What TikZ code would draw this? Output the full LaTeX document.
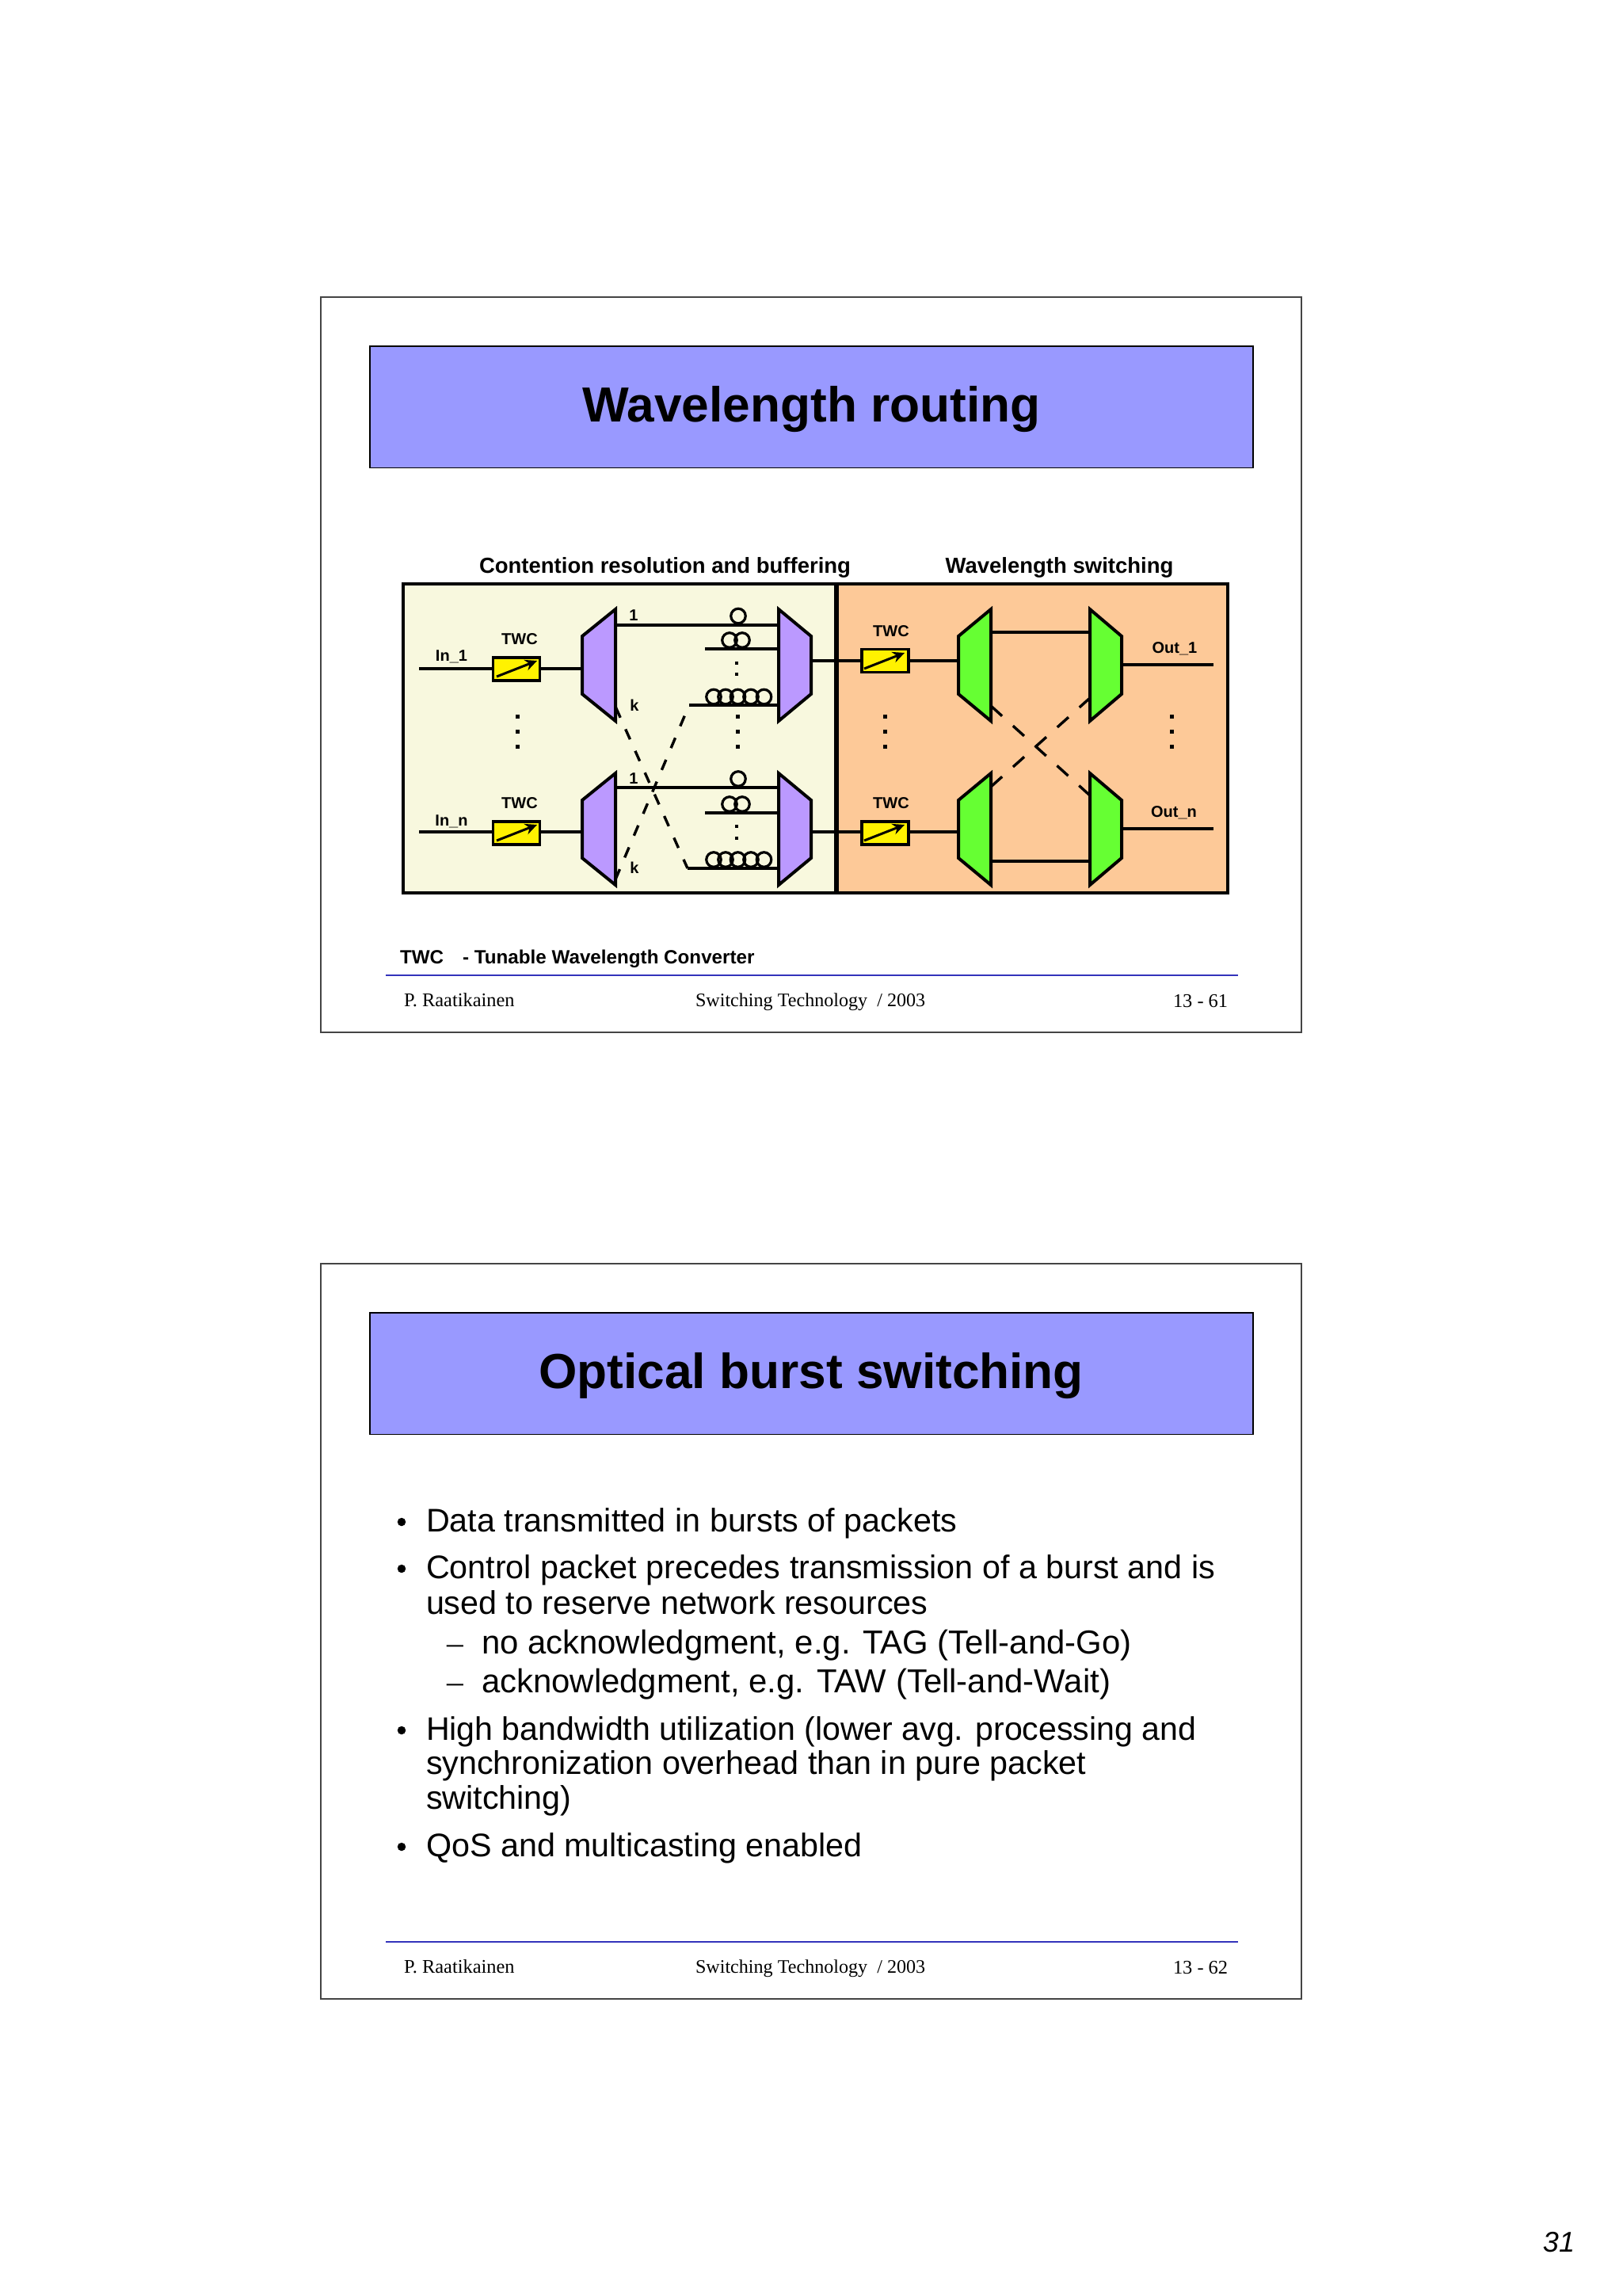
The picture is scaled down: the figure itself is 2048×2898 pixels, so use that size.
\documentclass[tikz,border=0pt]{standalone}
\usepackage{fontspec}
\setmainfont{Liberation Sans}
\newfontfamily\serifface{Liberation Serif}
\usetikzlibrary{arrows.meta}
\definecolor{titleblue}{HTML}{9999FF}
\definecolor{panelcream}{HTML}{F8F8DE}
\definecolor{panelorange}{HTML}{FDC998}
\definecolor{muxpurple}{HTML}{BB99FF}
\definecolor{muxgreen}{HTML}{66FF33}
\definecolor{rulecol}{HTML}{3333BB}
\definecolor{framecol}{HTML}{444444}
\newcommand{\fsz}[1]{\fontsize{#1}{#1}\selectfont}
% name, left x, top y, fill : long side on the right
\newcommand{\splitter}[5]{%
  \node[muxbox,minimum width=#5,anchor=north west] (#1) at (#2,#3) {};
  \draw[muxline,fill=#4] (#2,#3+34) -- (#2+#5,#3) -- (#2+#5,#3+141) -- (#2,#3+107) -- cycle;}
% name, left x, top y, fill : long side on the left
\newcommand{\combiner}[5]{%
  \node[muxbox,minimum width=#5,anchor=north west] (#1) at (#2,#3) {};
  \draw[muxline,fill=#4] (#2,#3) -- (#2+#5,#3+34) -- (#2+#5,#3+107) -- (#2,#3+141) -- cycle;}
\tikzset{
  x=1pt,y=-1pt,
  wire/.style={line width=3.4pt,black},
  dashwire/.style={wire,dash pattern=on 14pt off 16pt},
  dashwireb/.style={wire,dash pattern=on 19pt off 18.5pt},
  muxline/.style={line width=4pt,line join=miter},
  muxbox/.style={inner sep=0,outer sep=0,minimum height=141pt},
  panel/.style={draw=black,line width=4pt},
  twcbox/.style={draw=black,fill=yellow,line width=3.4pt,inner sep=0,outer sep=0,minimum width=59pt,minimum height=29pt},
  twcarrow/.style={line width=3pt,-{Stealth[length=15pt,width=14pt]}},
  coil/.style={circle,draw=black,line width=3.2pt,inner sep=0,outer sep=0,minimum size=18.5pt},
  sq/.style={rectangle,fill=black,inner sep=0,outer sep=0,minimum size=5pt},
  sqs/.style={sq,minimum size=4.5pt},
  lbl/.style={inner sep=0,outer sep=0,anchor=base,font=\bfseries\fsz{20}},
  head/.style={inner sep=0,outer sep=0,anchor=base,font=\bfseries\fsz{27.5}},
  titletext/.style={inner sep=0,outer sep=0,anchor=base,font=\bfseries\fsz{62.2}},
  bodytext/.style={inner sep=0,outer sep=0,anchor=base west,font=\fsz{41.3}},
  subtext/.style={bodytext,font=\fsz{41.9}},
  foot/.style={inner sep=0,outer sep=0,anchor=base west,font=\serifface\fsz{24.4}},
  footmid/.style={foot,font=\serifface\fsz{24.1}},
  slideframe/.style={draw=framecol,line width=2pt},
  titlebar/.style={draw=black,fill=titleblue,line width=1.8pt},
  footrule/.style={draw=rulecol,line width=2.2pt},
}
\begin{document}
\begin{tikzpicture}
\useasboundingbox[fill=white] (0,0) rectangle (2048,2898);

% ---------- slide frames and titles
\draw[slideframe] (405,375) rectangle (1643,1303);
\draw[slideframe] (405,1595) rectangle (1643,2523);
\draw[titlebar] (467,437) rectangle (1582,590.5);
\draw[titlebar] (467,1657) rectangle (1582,1810.5);
\node[titletext] (t1) at (1024.5,532.5) {Wavelength routing};
\node[titletext] (t2) at (1024,1752.5) {Optical burst switching};

% ---------- panels
\node[head] (h1) at (839.5,723) {Contention resolution and buffering};
\node[head] (h2) at (1337.5,723) {Wavelength switching};
\draw[panel,fill=panelcream] (509,737) rectangle (1055.5,1126.5);
\draw[panel,fill=panelorange] (1055.5,737) rectangle (1549.5,1126.5);

% ---------- left panel blocks
\coordinate (in1) at (529,844);
\coordinate (inn) at (529,1050);
\node[twcbox] (b1) at (652,844.5) {};
\node[twcbox] (b2) at (652,1051.5) {};
\node[twcbox] (b3) at (1117.5,834) {};
\node[twcbox] (b4) at (1117.5,1051.5) {};

% coils
\node[coil] (c1) at (932,777.5) {};
\node[coil] (c2) at (921,808) {};
\node[coil] (c3) at (937,808) {};
\foreach \n/\x in {a/901,b/916,c/931.5,d/948,e/964.5}{\node[coil] (c4\n) at (\x,879.5) {};}
\node[coil] (d1) at (932,983) {};
\node[coil] (d2) at (921,1015) {};
\node[coil] (d3) at (937,1015) {};
\foreach \n/\x in {a/901,b/916,c/931.5,d/948,e/964.5}{\node[coil] (d4\n) at (\x,1085) {};}

\coordinate (w2) at (890,819);
\coordinate (w3) at (870,890);
\coordinate (w5) at (890,1026);
\coordinate (w6) at (868,1096);

% anchors of the mux shapes, wires run between them
\node[muxbox,minimum width=42pt,anchor=north west] (dm1) at (735,769) {};
\node[muxbox,minimum width=42pt,anchor=north west] (dm2) at (735,976) {};
\node[muxbox,minimum width=41pt,anchor=north west] (cm1) at (983,769) {};
\node[muxbox,minimum width=41pt,anchor=north west] (cm2) at (983,976) {};
\node[muxbox,minimum width=41pt,anchor=north west] (gd1) at (1210,769) {};
\node[muxbox,minimum width=41pt,anchor=north west] (gd2) at (1210,976) {};
\node[muxbox,minimum width=40pt,anchor=north west] (gc1) at (1376,769) {};
\node[muxbox,minimum width=40pt,anchor=north west] (gc2) at (1376,976) {};

\draw[wire] (in1) -- (b1.west |- in1);
\draw[wire] (inn) -- (b2.west |- inn);
\draw[wire] (b1.east |- in1) -- (dm1.west |- in1);
\draw[wire] (b2.east |- inn) -- (dm2.west |- inn);
\draw[wire] (dm1.east |- 0,789) -- (cm1.west |- 0,789);
\draw[wire] (dm2.east |- 0,994) -- (cm2.west |- 0,994);
\draw[wire] (w2) -- (cm1.west |- w2);
\draw[wire] (w3) -- (cm1.west |- w3);
\draw[wire] (w5) -- (cm2.west |- w5);
\draw[wire] (w6) -- (cm2.west |- w6);
\draw[dashwire] (777.5,893) -- (w6);
\draw[dashwire] (777,1110) -- (w3);
\draw[wire] (cm1.east |- 0,834) -- (b3.west |- 0,834);
\draw[wire] (cm2.east |- inn) -- (b4.west |- inn);
\draw[wire] (b3.east |- 0,834) -- (gd1.west |- 0,834);
\draw[wire] (b4.east |- inn) -- (gd2.west |- inn);
\draw[wire] (gd1.east |- 0,798) -- (gc1.west |- 0,798);
\draw[wire] (gd2.east |- 0,1087) -- (gc2.west |- 0,1087);
\draw[dashwireb] (1251,891) -- (1376,1004);
\draw[dashwireb] (1251,993) -- (1376,881);
\coordinate (out1) at (1532,839);
\coordinate (outn) at (1532,1046);
\draw[wire] (gc1.east |- out1) -- (out1);
\draw[wire] (gc2.east |- outn) -- (outn);
\draw[black,line width=6pt] (1055.5,737) -- (1055.5,1126.5);

% mux shapes
\splitter{dmA}{735}{769}{muxpurple}{42}
\splitter{dmB}{735}{976}{muxpurple}{42}
\combiner{cmA}{983}{769}{muxpurple}{41}
\combiner{cmB}{983}{976}{muxpurple}{41}
\splitter{gdA}{1210}{769}{muxgreen}{41}
\splitter{gdB}{1210}{976}{muxgreen}{41}
\combiner{gcA}{1376}{769}{muxgreen}{40}
\combiner{gcB}{1376}{976}{muxgreen}{40}

% TWC arrows
\draw[twcarrow] ([shift={(-25,9.5)}]b1.center) -- ([shift={(26,-10.5)}]b1.center);
\draw[twcarrow] ([shift={(-25,9.5)}]b2.center) -- ([shift={(26,-10.5)}]b2.center);
\draw[twcarrow] ([shift={(-26.5,10)}]b3.center) -- ([shift={(24.5,-10)}]b3.center);
\draw[twcarrow] ([shift={(-26.5,9.5)}]b4.center) -- ([shift={(24.5,-10.5)}]b4.center);

% dots
\foreach \x in {653,931,1117.5,1479}{
  \node[sq] (p\x a) at (\x,904) {};
  \node[sq] (p\x b) at (\x,923) {};
  \node[sq] (p\x c) at (\x,942) {};
}
\node[sqs] (q1) at (930,837) {};
\node[sqs] (q2) at (930,851) {};
\node[sqs] (q3) at (930,1043) {};
\node[sqs] (q4) at (930,1058) {};

% labels
\node[lbl] (l1) at (570,834) {In\_1};
\node[lbl] (l2) at (570,1042) {In\_n};
\node[lbl] (l3) at (656,813) {TWC};
\node[lbl] (l4) at (656,1020) {TWC};
\node[lbl] (l5) at (1125,803) {TWC};
\node[lbl] (l6) at (1125,1020) {TWC};
\node[lbl] (l7) at (1483,824) {Out\_1};
\node[lbl] (l8) at (1482,1031) {Out\_n};
\node[lbl] (n1) at (800,783) {1};
\node[lbl] (k1) at (801,897) {k};
\node[lbl] (n2) at (800,989) {1};
\node[lbl] (k2) at (801,1102) {k};

% footers
\node[inner sep=0,outer sep=0,anchor=base west,font=\bfseries\fsz{24.2}] (twc) at (505,1216) {TWC\hspace{24pt}- Tunable Wavelength Converter};
\draw[footrule] (487,1231) -- (1563,1231);
\draw[footrule] (487,2451) -- (1563,2451);
\node[foot] (f1) at (510,1270) {P. Raatikainen};
\node[footmid] (f2) at (878,1270) {Switching Technology \ / 2003};
\node[foot] (f3) at (1481,1271) {13 - 61};
\node[foot] (f4) at (510,2490) {P. Raatikainen};
\node[footmid] (f5) at (878,2490) {Switching Technology \ / 2003};
\node[foot] (f6) at (1481,2491) {13 - 62};

% body
\foreach \y in {1933,1992,2196,2343}{
  \node[circle,fill=black,inner sep=0,outer sep=0,minimum size=10.5pt] (bul\y) at (507,\y-12) {};
}
\node[bodytext] (s1) at (538,1933) {Data transmitted in bursts of packets};
\node[bodytext] (s2) at (538,1992) {Control packet precedes transmission of a burst and is};
\node[bodytext] (s3) at (538,2037) {used to reserve network resources};
\node[bodytext,font=\serifface\fsz{41.3}] (da) at (564,2087) {–};
\node[bodytext,font=\serifface\fsz{41.3}] (db) at (564,2136) {–};
\node[subtext] (s4) at (608,2087) {no acknowledgment, e.g. TAG (Tell-and-Go)};
\node[subtext] (s5) at (608,2136) {acknowledgment, e.g. TAW (Tell-and-Wait)};
\node[bodytext,font=\fsz{41.1}] (s6) at (538,2196) {High bandwidth utilization (lower avg. processing and};
\node[bodytext] (s7) at (538,2239) {synchronization overhead than in pure packet};
\node[bodytext] (s8) at (538,2283) {switching)};
\node[bodytext] (s9) at (538,2343) {QoS and multicasting enabled};

\node[inner sep=0,outer sep=0,anchor=base east,font=\itshape\fsz{36}] (pg) at (1988,2842) {31};
\end{tikzpicture}
\end{document}
